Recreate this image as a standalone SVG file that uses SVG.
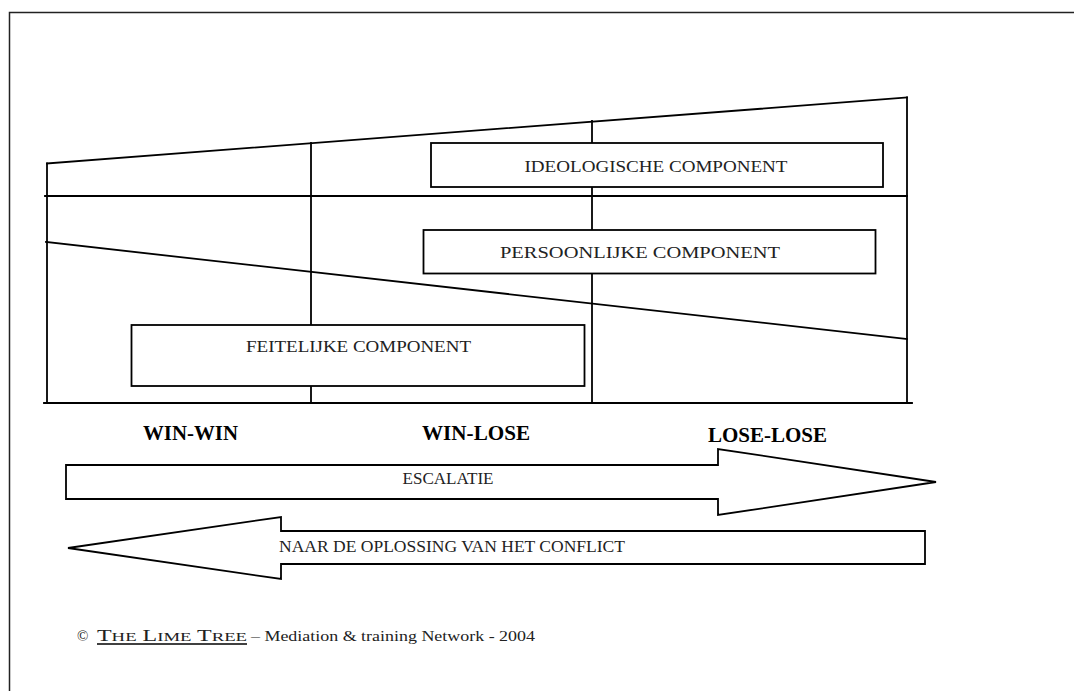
<svg xmlns="http://www.w3.org/2000/svg" width="1074" height="691" viewBox="0 0 1074 691">
  <style>
    .frame { fill: none; stroke: #222; stroke-width: 1.5; }
    .ln { fill: none; stroke: #000; stroke-width: 1.8; stroke-linecap: square; }
    .box { fill: #fff; stroke: #000; stroke-width: 1.8; }
    .lbl { font-family: "Liberation Serif", "Times New Roman", serif; font-size: 16px; fill: #222; }
    .hd { font-family: "Liberation Serif", "Times New Roman", serif; font-size: 20px; font-weight: bold; fill: #000; }
    .foot { font-family: "Liberation Serif", "Times New Roman", serif; fill: #222; }
  </style>

  <rect x="0" y="0" width="1074" height="691" fill="#fff"/>

  <!-- page frame -->
  <path class="frame" d="M9.5,691 V12.5 H1074"/>

  <!-- grid of the three components and three phases -->
  <g id="connectors">
    <line class="ln" x1="47" y1="163.5" x2="907" y2="97.5"/>
    <line class="ln" x1="47" y1="163.5" x2="47" y2="403"/>
    <line class="ln" x1="45" y1="196" x2="907" y2="196"/>
    <line class="ln" x1="46" y1="242" x2="907" y2="339"/>
    <line class="ln" x1="311" y1="143" x2="311" y2="403"/>
    <line class="ln" x1="592" y1="121" x2="592" y2="403"/>
    <line class="ln" x1="907" y1="97.5" x2="907" y2="403"/>
    <line class="ln" x1="44" y1="403" x2="912" y2="403"/>
  </g>

  <g id="ideologische">
    <rect class="box" x="431" y="143" width="452" height="44"/>
    <text class="lbl" x="656" y="171.5" text-anchor="middle" textLength="263" lengthAdjust="spacingAndGlyphs">IDEOLOGISCHE COMPONENT</text>
  </g>

  <g id="persoonlijke">
    <rect class="box" x="423.5" y="230" width="452" height="43.5"/>
    <text class="lbl" x="640" y="257.5" text-anchor="middle" textLength="280" lengthAdjust="spacingAndGlyphs">PERSOONLIJKE COMPONENT</text>
  </g>

  <g id="feitelijke">
    <rect class="box" x="131.5" y="325" width="453" height="61"/>
    <text class="lbl" x="358.5" y="352" text-anchor="middle" textLength="225" lengthAdjust="spacingAndGlyphs">FEITELIJKE COMPONENT</text>
  </g>

  <!-- phase headings -->
  <g id="win-win">
    <text class="hd" x="190.5" y="440" text-anchor="middle" textLength="95" lengthAdjust="spacingAndGlyphs">WIN-WIN</text>
  </g>
  <g id="win-lose">
    <text class="hd" x="476" y="440" text-anchor="middle" textLength="108" lengthAdjust="spacingAndGlyphs">WIN-LOSE</text>
  </g>
  <g id="lose-lose">
    <text class="hd" x="767.5" y="442" text-anchor="middle" textLength="119" lengthAdjust="spacingAndGlyphs">LOSE-LOSE</text>
  </g>

  <!-- escalation: block arrow to the right -->
  <g id="escalatie">
    <polygon class="box" points="66,465 718,465 718,449 936,482 718,515 718,499 66,499"/>
    <text class="lbl" x="448" y="484" text-anchor="middle" textLength="91" lengthAdjust="spacingAndGlyphs">ESCALATIE</text>
  </g>

  <!-- de-escalation: block arrow to the left -->
  <g id="oplossing">
    <polygon class="box" points="68,548 281,517 281,531 925,531 925,564 281,564 281,579"/>
    <text class="lbl" x="279" y="552" textLength="346" lengthAdjust="spacingAndGlyphs">NAAR DE OPLOSSING VAN HET CONFLICT</text>
  </g>

  <!-- copyright line -->
  <g id="copyright">
    <text class="foot" x="77" y="641" font-size="15">©</text>
    <text class="foot" x="97" y="641" font-size="16" textLength="150" lengthAdjust="spacingAndGlyphs">T<tspan font-size="12.5">HE</tspan> L<tspan font-size="12.5">IME</tspan> T<tspan font-size="12.5">REE</tspan></text>
    <line x1="97" y1="644" x2="247" y2="644" stroke="#000" stroke-width="1.3"/>
    <text class="foot" x="251" y="641" font-size="14.5" textLength="284" lengthAdjust="spacingAndGlyphs">– Mediation &amp; training Network - 2004</text>
  </g>
</svg>
